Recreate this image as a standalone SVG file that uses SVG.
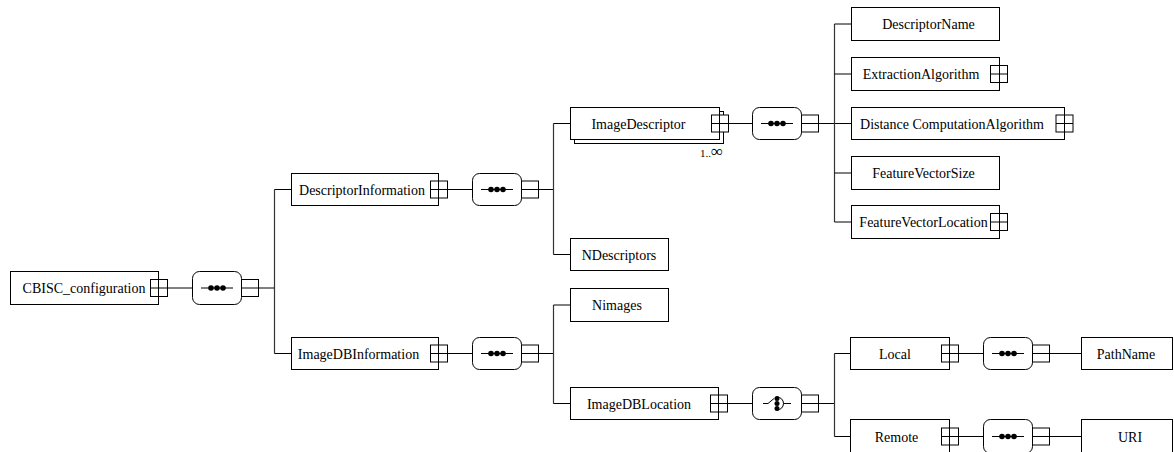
<svg xmlns="http://www.w3.org/2000/svg" width="1174" height="452" viewBox="0 0 1174 452">
<style>
.box{fill:#fff;stroke:#000;stroke-width:1}
.comp{fill:#fff;stroke:#000;stroke-width:1}
.exp{fill:#fff;stroke:#000;stroke-width:1}
.ln{fill:none;stroke:#000;stroke-width:1}
.vl{fill:none;stroke:#333;stroke-width:1.2}
.t{font-size:14px;fill:#000;text-anchor:middle}
.m{font-size:11px;fill:#000;text-anchor:end}
</style>
<defs>
<g id="seq">
<line x1="-16" y1="0" x2="16" y2="0" stroke="#000" stroke-width="1"/>
<circle cx="-6" cy="0" r="2.8" fill="#000"/>
<circle cx="0" cy="0" r="2.8" fill="#000"/>
<circle cx="6" cy="0" r="2.8" fill="#000"/>
</g>
<g id="cho">
<path d="M-14,0 H-9 L-3,-5" fill="none" stroke="#000" stroke-width="1"/>
<circle cx="0" cy="-5" r="2.5" fill="#000"/>
<circle cx="0" cy="0" r="2.5" fill="#000"/>
<circle cx="0" cy="5" r="2.5" fill="#000"/>
<path d="M0,-6.5 A6.5,6.5 0 0 1 0,6.5" fill="none" stroke="#000" stroke-width="1"/>
<line x1="6.5" y1="0" x2="14" y2="0" stroke="#000" stroke-width="1"/>
</g>
</defs>

<g id="connectors">
<line class="ln" x1="158.5" y1="288" x2="192.5" y2="288"/>
<line class="ln" x1="258.5" y1="288" x2="274.5" y2="288"/>
<line class="vl" x1="274.5" y1="189.5" x2="274.5" y2="353.5"/>
<line class="ln" x1="274.5" y1="189.5" x2="291.5" y2="189.5"/>
<line class="ln" x1="274.5" y1="353.5" x2="291.5" y2="353.5"/>
<line class="ln" x1="438.5" y1="189.5" x2="472.5" y2="189.5"/>
<line class="ln" x1="538.5" y1="189.5" x2="553.5" y2="189.5"/>
<line class="vl" x1="553.5" y1="123.5" x2="553.5" y2="254.5"/>
<line class="ln" x1="553.5" y1="123.5" x2="570.5" y2="123.5"/>
<line class="ln" x1="553.5" y1="254.5" x2="570.5" y2="254.5"/>
<line class="ln" x1="728.5" y1="123.5" x2="752.5" y2="123.5"/>
<line class="ln" x1="818.5" y1="123.5" x2="851.5" y2="123.5"/>
<line class="vl" x1="834.5" y1="24" x2="834.5" y2="222"/>
<line class="ln" x1="834.5" y1="24" x2="851.5" y2="24"/>
<line class="ln" x1="834.5" y1="74" x2="851.5" y2="74"/>
<line class="ln" x1="834.5" y1="173" x2="851.5" y2="173"/>
<line class="ln" x1="834.5" y1="222" x2="851.5" y2="222"/>
<line class="ln" x1="438.5" y1="353.5" x2="472.5" y2="353.5"/>
<line class="ln" x1="538.5" y1="353.5" x2="553.5" y2="353.5"/>
<line class="vl" x1="553.5" y1="305" x2="553.5" y2="403.5"/>
<line class="ln" x1="553.5" y1="305" x2="570.5" y2="305"/>
<line class="ln" x1="553.5" y1="403.5" x2="570.5" y2="403.5"/>
<line class="ln" x1="727.5" y1="403.5" x2="752.5" y2="403.5"/>
<line class="ln" x1="818.5" y1="403.5" x2="834.5" y2="403.5"/>
<line class="vl" x1="834.5" y1="353.5" x2="834.5" y2="436.5"/>
<line class="ln" x1="834.5" y1="353.5" x2="850.5" y2="353.5"/>
<line class="ln" x1="834.5" y1="436.5" x2="850.5" y2="436.5"/>
<line class="ln" x1="949.5" y1="353.5" x2="983.5" y2="353.5"/>
<line class="ln" x1="1049.5" y1="353.5" x2="1081.5" y2="353.5"/>
<line class="ln" x1="949.5" y1="436.5" x2="983.5" y2="436.5"/>
<line class="ln" x1="1049.5" y1="436.5" x2="1081.5" y2="436.5"/>
</g>

<g font-family="'Liberation Serif', 'Times New Roman', 'DejaVu Serif', serif">
<g id="CBISC_configuration">
<rect class="box" x="10.5" y="271.5" width="148" height="33"/>
<text class="t" x="84" y="293">CBISC_configuration</text>
<rect class="exp" x="150.5" y="279.5" width="17" height="17"/>
<line class="ln" x1="150.5" y1="288" x2="167.5" y2="288"/>
<line class="ln" x1="158.5" y1="279.5" x2="158.5" y2="296.5"/>
</g>
<g id="seq1">
<rect class="comp" x="192.5" y="271.5" width="49" height="33" rx="7"/>
<use href="#seq" x="217" y="288"/>
<rect class="exp" x="241.5" y="279.5" width="17" height="17"/>
<line class="ln" x1="241.5" y1="288" x2="258.5" y2="288"/>
</g>

<g id="DescriptorInformation">
<rect class="box" x="291.5" y="173.5" width="147" height="32"/>
<text class="t" x="362" y="194.5">DescriptorInformation</text>
<rect class="exp" x="430.5" y="181" width="17" height="17"/>
<line class="ln" x1="430.5" y1="189.5" x2="447.5" y2="189.5"/>
<line class="ln" x1="438.5" y1="181" x2="438.5" y2="198"/>
</g>
<g id="seq2">
<rect class="comp" x="472.5" y="173.5" width="49" height="32" rx="7"/>
<use href="#seq" x="497" y="189.5"/>
<rect class="exp" x="521.5" y="181" width="17" height="17"/>
<line class="ln" x1="521.5" y1="189.5" x2="538.5" y2="189.5"/>
</g>

<g id="ImageDescriptor">
<rect class="box" x="574.5" y="111.5" width="149" height="32"/>
<rect class="box" x="570.5" y="107.5" width="149" height="32"/>
<text class="t" x="638.5" y="128.5">ImageDescriptor</text>
<rect class="exp" x="711.5" y="115" width="17" height="17"/>
<line class="ln" x1="711.5" y1="123.5" x2="728.5" y2="123.5"/>
<line class="ln" x1="719.5" y1="115" x2="719.5" y2="132"/>
<text class="m" x="723" y="157">1..<tspan font-size="17px">∞</tspan></text>
</g>
<g id="seq3">
<rect class="comp" x="752.5" y="107.5" width="49" height="32" rx="7"/>
<use href="#seq" x="777" y="123.5"/>
<rect class="exp" x="801.5" y="115" width="17" height="17"/>
<line class="ln" x1="801.5" y1="123.5" x2="818.5" y2="123.5"/>
</g>

<g id="DescriptorName">
<rect class="box" x="851.5" y="7.5" width="148" height="33"/>
<text class="t" x="928.5" y="29">DescriptorName</text>
</g>
<g id="ExtractionAlgorithm">
<rect class="box" x="851.5" y="57.5" width="148" height="33"/>
<text class="t" x="921" y="79">ExtractionAlgorithm</text>
<rect class="exp" x="990.5" y="65.5" width="17" height="17"/>
<line class="ln" x1="990.5" y1="74" x2="1007.5" y2="74"/>
<line class="ln" x1="999.5" y1="65.5" x2="999.5" y2="82.5"/>
</g>
<g id="DistanceComputationAlgorithm">
<rect class="box" x="851.5" y="107.5" width="213" height="32"/>
<text class="t" x="952" y="128.5">Distance ComputationAlgorithm</text>
<rect class="exp" x="1056" y="115" width="17" height="17"/>
<line class="ln" x1="1056" y1="123.5" x2="1073" y2="123.5"/>
<line class="ln" x1="1064.5" y1="115" x2="1064.5" y2="132"/>
</g>
<g id="FeatureVectorSize">
<rect class="box" x="851.5" y="156.5" width="148" height="33"/>
<text class="t" x="923.5" y="178">FeatureVectorSize</text>
</g>
<g id="FeatureVectorLocation">
<rect class="box" x="851.5" y="205.5" width="148" height="33"/>
<text class="t" x="923.5" y="227">FeatureVectorLocation</text>
<rect class="exp" x="990.5" y="213.5" width="17" height="17"/>
<line class="ln" x1="990.5" y1="222" x2="1007.5" y2="222"/>
<line class="ln" x1="999.5" y1="213.5" x2="999.5" y2="230.5"/>
</g>

<g id="NDescriptors">
<rect class="box" x="570.5" y="238.5" width="98" height="32"/>
<text class="t" x="619" y="259.5">NDescriptors</text>
</g>
<g id="Nimages">
<rect class="box" x="570.5" y="288.5" width="98" height="33"/>
<text class="t" x="617" y="310">Nimages</text>
</g>

<g id="ImageDBInformation">
<rect class="box" x="291.5" y="337.5" width="147" height="32"/>
<text class="t" x="358.5" y="358.5">ImageDBInformation</text>
<rect class="exp" x="430.5" y="345" width="17" height="17"/>
<line class="ln" x1="430.5" y1="353.5" x2="447.5" y2="353.5"/>
<line class="ln" x1="438.5" y1="345" x2="438.5" y2="362"/>
</g>
<g id="seq4">
<rect class="comp" x="472.5" y="337.5" width="49" height="32" rx="7"/>
<use href="#seq" x="497" y="353.5"/>
<rect class="exp" x="521.5" y="345" width="17" height="17"/>
<line class="ln" x1="521.5" y1="353.5" x2="538.5" y2="353.5"/>
</g>

<g id="ImageDBLocation">
<rect class="box" x="570.5" y="387.5" width="148" height="32"/>
<text class="t" x="639" y="408.5">ImageDBLocation</text>
<rect class="exp" x="710.5" y="395" width="17" height="17"/>
<line class="ln" x1="710.5" y1="403.5" x2="727.5" y2="403.5"/>
<line class="ln" x1="718.5" y1="395" x2="718.5" y2="412"/>
</g>
<g id="choice1">
<rect class="comp" x="752.5" y="387.5" width="49" height="32" rx="7"/>
<use href="#cho" x="777" y="403.5"/>
<rect class="exp" x="801.5" y="395" width="17" height="17"/>
<line class="ln" x1="801.5" y1="403.5" x2="818.5" y2="403.5"/>
</g>

<g id="Local">
<rect class="box" x="850.5" y="337.5" width="99" height="32"/>
<text class="t" x="895" y="358.5">Local</text>
<rect class="exp" x="941.5" y="345" width="17" height="17"/>
<line class="ln" x1="941.5" y1="353.5" x2="958.5" y2="353.5"/>
<line class="ln" x1="949.5" y1="345" x2="949.5" y2="362"/>
</g>
<g id="seq5">
<rect class="comp" x="983.5" y="337.5" width="49" height="32" rx="7"/>
<use href="#seq" x="1008" y="353.5"/>
<rect class="exp" x="1032.5" y="345" width="17" height="17"/>
<line class="ln" x1="1032.5" y1="353.5" x2="1049.5" y2="353.5"/>
</g>
<g id="PathName">
<rect class="box" x="1081.5" y="337.5" width="91" height="32"/>
<text class="t" x="1126" y="358.5">PathName</text>
</g>

<g id="Remote">
<rect class="box" x="850.5" y="419.5" width="99" height="34"/>
<text class="t" x="896.5" y="441.5">Remote</text>
<rect class="exp" x="941.5" y="428" width="17" height="17"/>
<line class="ln" x1="941.5" y1="436.5" x2="958.5" y2="436.5"/>
<line class="ln" x1="949.5" y1="428" x2="949.5" y2="445"/>
</g>
<g id="seq6">
<rect class="comp" x="983.5" y="419.5" width="49" height="34" rx="7"/>
<use href="#seq" x="1008" y="436.5"/>
<rect class="exp" x="1032.5" y="428" width="17" height="17"/>
<line class="ln" x1="1032.5" y1="436.5" x2="1049.5" y2="436.5"/>
</g>
<g id="URI">
<rect class="box" x="1081.5" y="419.5" width="91" height="34"/>
<text class="t" x="1130" y="441.5">URI</text>
</g>
</g>
</svg>
